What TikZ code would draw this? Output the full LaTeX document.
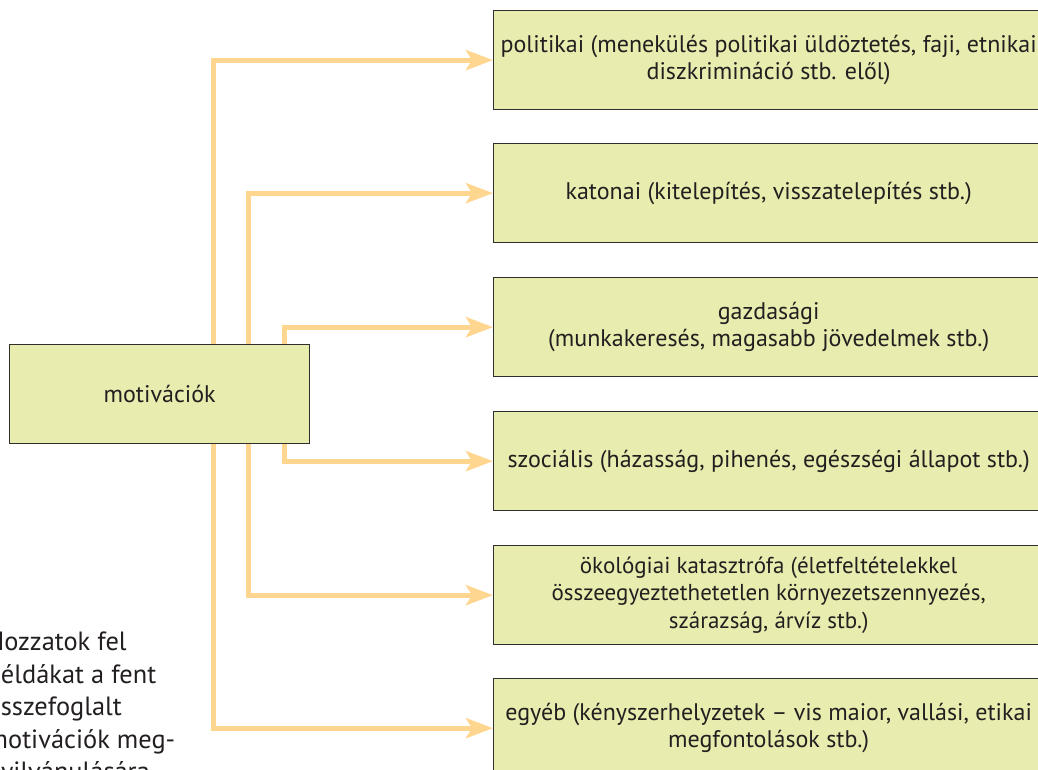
\documentclass[tikz,border=0pt]{standalone}
\usepackage{fontspec}
\setmainfont{PT Sans}
\usetikzlibrary{arrows.meta}
\definecolor{boxfill}{HTML}{E8ECAE}
\definecolor{boxline}{HTML}{2E2E2E}
\definecolor{arrcol}{HTML}{FFD690}
\definecolor{txt}{HTML}{231F20}
\begin{document}
\begin{tikzpicture}[x=1pt,y=-1pt,
  cbox/.style={draw=boxline, line width=1.3pt, fill=boxfill, text=txt,
    minimum width=550pt, minimum height=99pt, inner sep=0pt, align=center,
    anchor=north west, font=\fontsize{24}{27.5}\selectfont},
  mbox/.style={cbox, minimum width=300pt},
  arr/.style={draw=arrcol, line width=5pt,
    -{Stealth[length=27pt,width=20pt,inset=6pt]}},
  note/.style={anchor=base west, inner sep=0pt, text=txt,
    font=\fontsize{26.4}{32.5}\selectfont}]
\useasboundingbox (0,0) rectangle (1038,770);
\fill[white] (0,0) rectangle (1038,770);

\node[cbox] (b1) at (493,10) {politikai (menekülés politikai üldöztetés, faji, etnikai\\diszkrimináció stb. elől)};
\node[cbox] (b2) at (493,143) {katonai (kitelepítés, visszatelepítés stb.)};
\node[cbox] (b3) at (493,277) {gazdasági\\(munkakeresés, magasabb jövedelmek stb.)};
\node[cbox] (b4) at (493,411) {szociális (házasság, pihenés, egészségi állapot stb.)};
\node[cbox, font=\fontsize{23}{27.5}\selectfont] (b5) at (493,545) {ökológiai katasztrófa (életfeltételekkel\\összeegyeztethetetlen környezetszennyezés,\\szárazság, árvíz stb.)};
\node[cbox] (b6) at (493,678) {egyéb (kényszerhelyzetek – vis maior, vallási, etikai\\megfontolások stb.)};

\node[mbox] (mot) at (9,344) {motivációk};

\draw[arr] ([xshift=54pt]mot.north) |- (b1.west);
\draw[arr] ([xshift=89pt]mot.north) |- (b2.west);
\draw[arr] ([xshift=125pt]mot.north) |- (b3.west);
\draw[arr] ([xshift=125pt]mot.south) |- (b4.west);
\draw[arr] ([xshift=89pt]mot.south) |- (b5.west);
\draw[arr] ([xshift=54pt]mot.south) |- (b6.west);

\node[note] (n1) at (-13.5,650) {Hozzatok fel};
\node[note] (n2) at (-13.5,683) {példákat a fent};
\node[note] (n3) at (-13.5,715) {összefoglalt};
\node[note] (n4) at (-13.5,748) {motivációk meg-};
\node[note] (n5) at (-13.5,780) {nyilvánulására};
\end{tikzpicture}
\end{document}
